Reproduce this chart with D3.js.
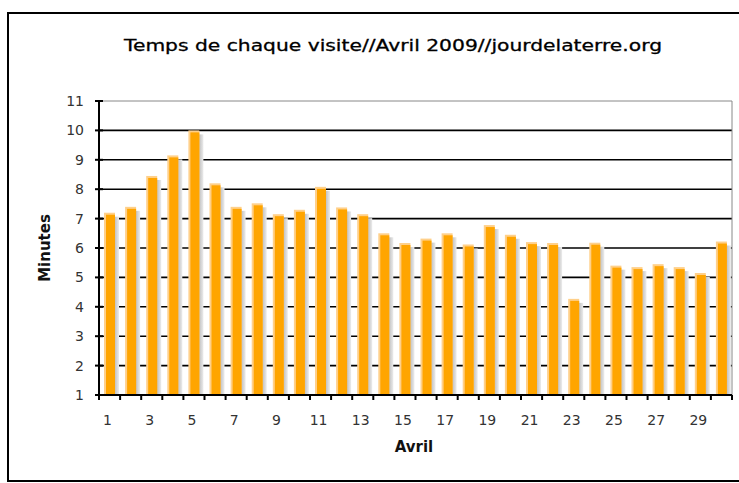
<!DOCTYPE html>
<html lang="fr">
<head>
    <meta charset="UTF-8">
    <script src="https://d3js.org/d3.v7.min.js"></script>
    <title>Temps de chaque visite</title>
    <style>
        body { margin: 0; background: #fff; }
        text { font-family: "DejaVu Sans", sans-serif; }
    </style>
</head>
<body>
<script>
    // données
    var days = d3.range(1, 31)
    var minutes = [7.2, 7.4, 8.45, 9.15, 10.0, 8.2, 7.4, 7.52, 7.15, 7.3,
                   8.08, 7.38, 7.15, 6.5, 6.17, 6.32, 6.5, 6.12, 6.78, 6.45,
                   6.2, 6.17, 4.27, 6.18, 5.4, 5.35, 5.45, 5.35, 5.15, 6.22]
    var yTicks = d3.range(1, 12)
    var xLabels = days.filter(function (d) { return d % 2 == 1 })

    var title = "Temps de chaque visite//Avril 2009//jourdelaterre.org"

    var width = 739
    var height = 483
    var plot = { left: 99, right: 732, top: 101, bottom: 395 }

    var svg = d3.select("body")
        .append("svg")
        .attr("width", width)
        .attr("height", height)

    // cadre extérieur
    svg.append("rect")
        .attr("x", 8).attr("y", 13)
        .attr("width", 760).attr("height", 468)
        .attr("fill", "none")
        .attr("stroke", "#000")
        .attr("stroke-width", 2)

    var x = d3.scaleBand()
        .domain(days)
        .range([plot.left, plot.right])
        .paddingInner(0)

    var y = d3.scaleLinear()
        .domain([1, 11])
        .range([plot.bottom, plot.top])

    // grille
    svg.selectAll("line.grid")
        .data(yTicks.filter(function (d) { return d > 1 }))
        .enter()
        .append("line")
        .attr("class", "grid")
        .attr("x1", plot.left)
        .attr("x2", plot.right)
        .attr("y1", function (d) { return y(d) })
        .attr("y2", function (d) { return y(d) })
        .attr("stroke", function (d) { return d == 11 ? "#888" : "#000" })
        .attr("stroke-width", function (d) { return d == 11 ? 1 : 1.6 })

    // bord droit de la zone de tracé
    svg.append("line")
        .attr("x1", plot.right).attr("x2", plot.right)
        .attr("y1", plot.top).attr("y2", plot.bottom)
        .attr("stroke", "#888")

    var defs = svg.append("defs")
    var grad = defs.append("linearGradient").attr("id", "shadow")
    grad.append("stop").attr("offset", "0%").attr("stop-color", "#b8b8b8")
    grad.append("stop").attr("offset", "100%").attr("stop-color", "#ececec")

    var bw = 11
    var g = svg.selectAll("g.bar")
        .data(days)
        .enter()
        .append("g")
        .attr("class", "bar")

    // ombre
    g.append("rect")
        .attr("x", function (d) { return x(d) + 5 + bw - 1 })
        .attr("y", function (d, i) { return y(minutes[i]) + 4 })
        .attr("width", 5)
        .attr("height", function (d, i) { return plot.bottom - y(minutes[i]) - 4 })
        .attr("fill", "url(#shadow)")

    // bord clair
    g.append("rect")
        .attr("x", function (d) { return x(d) + 5 })
        .attr("y", function (d, i) { return y(minutes[i]) })
        .attr("width", bw)
        .attr("height", function (d, i) { return plot.bottom - y(minutes[i]) })
        .attr("fill", "#ffd08a")

    // barre
    g.append("rect")
        .attr("x", function (d) { return x(d) + 7 })
        .attr("y", function (d, i) { return y(minutes[i]) + 2 })
        .attr("width", bw - 2)
        .attr("height", function (d, i) { return plot.bottom - y(minutes[i]) - 2 })
        .attr("fill", "#ffa500")

    // axe Y
    svg.append("line")
        .attr("x1", plot.left).attr("x2", plot.left)
        .attr("y1", plot.top).attr("y2", plot.bottom + 5)
        .attr("stroke", "#000").attr("stroke-width", 2)

    svg.selectAll("line.ytick")
        .data(yTicks)
        .enter()
        .append("line")
        .attr("class", "ytick")
        .attr("x1", plot.left - 4)
        .attr("x2", plot.left + 4)
        .attr("y1", function (d) { return y(d) })
        .attr("y2", function (d) { return y(d) })
        .attr("stroke", "#000").attr("stroke-width", 2)

    svg.selectAll("text.ylab")
        .data(yTicks)
        .enter()
        .append("text")
        .attr("class", "ylab")
        .attr("x", 84)
        .attr("y", function (d) { return y(d) })
        .attr("dy", "0.36em")
        .attr("text-anchor", "end")
        .attr("font-size", "14px")
        .attr("fill", "#333")
        .text(function (d) { return d })

    // axe X
    svg.append("line")
        .attr("x1", plot.left - 4).attr("x2", plot.right)
        .attr("y1", plot.bottom).attr("y2", plot.bottom)
        .attr("stroke", "#000").attr("stroke-width", 2)

    svg.selectAll("line.xtick")
        .data(days.map(function (d) { return x(d) }).concat([plot.right]))
        .enter()
        .append("line")
        .attr("class", "xtick")
        .attr("x1", function (d) { return d })
        .attr("x2", function (d) { return d })
        .attr("y1", plot.bottom)
        .attr("y2", plot.bottom + 5)
        .attr("stroke", "#000").attr("stroke-width", 2)

    svg.selectAll("text.xlab")
        .data(xLabels)
        .enter()
        .append("text")
        .attr("class", "xlab")
        .attr("x", function (d) { return x(d) + x.bandwidth() / 2 - 2 })
        .attr("y", 425)
        .attr("text-anchor", "middle")
        .attr("font-size", "14px")
        .attr("fill", "#333")
        .text(function (d) { return d })

    // titres
    svg.append("text")
        .attr("x", 124)
        .attr("y", 51)
        .attr("font-size", "16px")
        .attr("textLength", 538)
        .attr("lengthAdjust", "spacingAndGlyphs")
        .attr("fill", "#000")
        .attr("stroke", "#000")
        .attr("stroke-width", 0.3)
        .text(title)

    svg.append("text")
        .attr("x", 414)
        .attr("y", 452)
        .attr("text-anchor", "middle")
        .attr("font-size", "15px")
        .attr("font-weight", "bold")
        .attr("fill", "#111")
        .text("Avril")

    svg.append("text")
        .attr("transform", "translate(50,248) rotate(-90)")
        .attr("text-anchor", "middle")
        .attr("font-size", "15px")
        .attr("font-weight", "bold")
        .attr("fill", "#111")
        .text("Minutes")
</script>
</body>
</html>
